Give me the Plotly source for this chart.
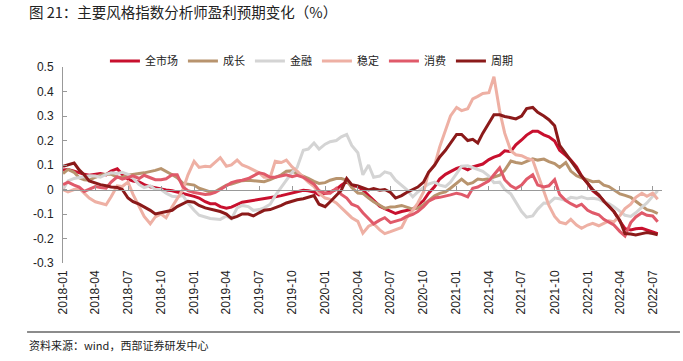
import pandas as pd
import plotly.graph_objects as go

# semi-monthly observation dates (1st and 15th), 2018-01 .. 2022-07
dates = pd.date_range("2018-01-01", periods=110, freq="SMS")

series_names = ["全市场", "成长", "金融", "稳定", "消费", "周期"]

quanshichang = [
    0.080, 0.082, 0.075, 0.068, 0.062, 0.058, 0.062, 0.065, 0.060, 0.075,
    0.085, 0.062, 0.042, 0.035, 0.031, 0.020, 0.011, 0.006, 0.003, -0.002,
    -0.005, -0.010, -0.015, -0.022, -0.028, -0.035, -0.050, -0.058, -0.058, -0.070,
    -0.076, -0.072, -0.062, -0.052, -0.048, -0.045, -0.042, -0.038, -0.033, -0.030,
    -0.025, -0.020, -0.012, -0.008, -0.003, -0.005, -0.010, -0.022, -0.016, -0.010,
    0.000, 0.018, 0.032, 0.015, 0.012, -0.002, -0.025, -0.044, -0.068, -0.078,
    -0.090, -0.098, -0.090, -0.085, -0.080, -0.065, -0.045, -0.015, 0.012, 0.043,
    0.062, 0.073, 0.086, 0.092, 0.080, 0.092, 0.098, 0.104, 0.122, 0.132,
    0.140, 0.158, 0.155, 0.182, 0.202, 0.222, 0.238, 0.238, 0.223, 0.215,
    0.198, 0.160, 0.139, 0.120, 0.092, 0.055, 0.025, -0.005, -0.025, -0.048,
    -0.068, -0.090, -0.130, -0.160, -0.165, -0.160, -0.158, -0.165, -0.172, -0.180,
]

chengzhang = [
    0.065, 0.082, 0.070, 0.048, 0.040, 0.038, 0.050, 0.058, 0.062, 0.063,
    0.050, 0.050, 0.058, 0.060, 0.065, 0.068, 0.072, 0.078, 0.085, 0.075,
    0.060, 0.048, 0.025, 0.022, 0.018, 0.005, -0.005, -0.010, -0.008, 0.005,
    0.018, 0.022, 0.028, 0.036, 0.038, 0.037, 0.034, 0.032, 0.040, 0.048,
    0.060, 0.075, 0.076, 0.065, 0.055, 0.045, 0.033, 0.025, 0.028, 0.038,
    0.045, 0.045, 0.038, 0.008, -0.014, -0.016, -0.035, -0.050, -0.064, -0.077,
    -0.071, -0.070, -0.065, -0.072, -0.080, -0.076, -0.062, -0.046, -0.026, -0.016,
    -0.010, 0.005, 0.025, 0.042, 0.022, 0.028, 0.043, 0.040, 0.044, 0.050,
    0.058, 0.078, 0.116, 0.110, 0.106, 0.115, 0.125, 0.120, 0.124, 0.114,
    0.106, 0.090, 0.110, 0.075, 0.056, 0.048, 0.040, 0.032, 0.034, 0.018,
    0.012, -0.003, -0.018, -0.024, -0.032, -0.048, -0.065, -0.082, -0.088, -0.098,
]

jinrong = [
    0.000, 0.035, 0.045, 0.048, 0.052, 0.056, 0.055, 0.050, 0.062, 0.068,
    0.065, 0.070, 0.062, 0.046, 0.020, 0.008, 0.015, 0.000, 0.000, -0.015,
    -0.028, -0.030, -0.025, -0.055, -0.085, -0.105, -0.112, -0.118, -0.120, -0.122,
    -0.108, -0.120, -0.075, -0.065, -0.070, -0.085, -0.082, -0.075, -0.060, -0.025,
    0.010, 0.040, 0.070, 0.090, 0.160, 0.165, 0.190, 0.165, 0.185, 0.195,
    0.200, 0.215, 0.225, 0.180, 0.150, 0.060, 0.100, 0.050, 0.055, 0.072,
    0.065, 0.038, 0.015, 0.000, -0.030, -0.010, 0.008, 0.022, 0.030, 0.018,
    0.012, 0.030, 0.065, 0.095, 0.097, 0.090, 0.082, 0.074, 0.055, 0.028,
    0.030, 0.000, -0.018, -0.050, -0.090, -0.113, -0.108, -0.080, -0.055, -0.056,
    -0.035, -0.038, -0.044, -0.032, -0.036, -0.030, -0.038, -0.036, -0.040, -0.050,
    -0.058, -0.070, -0.090, -0.105, -0.110, -0.095, -0.072, -0.055, -0.028, -0.005,
]

wending = [
    0.000, -0.010, 0.000, 0.005, -0.015, -0.035, -0.050, -0.055, -0.062, -0.030,
    0.015, 0.012, 0.030, -0.020, -0.070, -0.110, -0.140, -0.112, -0.100, -0.115,
    -0.070, -0.035, 0.000, 0.060, 0.115, 0.090, 0.095, 0.093, 0.110, 0.130,
    0.095, 0.100, 0.120, 0.100, 0.090, 0.080, 0.068, 0.050, 0.050, 0.115,
    0.110, 0.120, 0.092, 0.075, 0.050, 0.030, 0.012, -0.015, -0.035, -0.040,
    -0.055, -0.075, -0.095, -0.115, -0.130, -0.178, -0.150, -0.140, -0.165, -0.180,
    -0.172, -0.165, -0.155, -0.115, -0.085, -0.055, -0.010, 0.070, 0.100, 0.174,
    0.240, 0.300, 0.335, 0.322, 0.330, 0.370, 0.380, 0.392, 0.395, 0.460,
    0.320, 0.230, 0.158, 0.142, 0.138, 0.128, 0.120, 0.060, -0.010, -0.065,
    -0.110, -0.133, -0.140, -0.122, -0.145, -0.158, -0.145, -0.138, -0.148, -0.138,
    -0.128, -0.132, -0.106, -0.078, -0.060, -0.032, -0.015, -0.028, -0.015, -0.040,
]

xiaofei = [
    0.020, 0.030, 0.018, 0.010, -0.008, 0.000, 0.012, 0.008, 0.005, 0.030,
    0.052, 0.042, 0.050, 0.056, 0.045, 0.058, 0.048, 0.040, 0.040, 0.044,
    0.060, 0.060, 0.010, -0.005, -0.012, -0.015, -0.020, -0.018, -0.012, 0.000,
    0.015, 0.028, 0.035, 0.038, 0.045, 0.055, 0.068, 0.064, 0.050, 0.050,
    0.056, 0.060, 0.052, 0.058, 0.050, 0.038, 0.022, -0.005, -0.015, -0.015,
    0.005, -0.020, -0.035, -0.060, -0.070, -0.095, -0.120, -0.140, -0.125, -0.115,
    -0.135, -0.130, -0.122, -0.110, -0.102, -0.090, -0.070, -0.048, -0.035, -0.032,
    -0.025, -0.022, -0.015, -0.020, -0.030, 0.005, 0.010, 0.022, 0.035, 0.060,
    0.088, 0.040, 0.015, 0.004, 0.018, 0.042, 0.060, 0.018, 0.010, 0.015,
    0.040, -0.020, -0.045, -0.058, -0.070, -0.060, -0.085, -0.095, -0.103, -0.122,
    -0.132, -0.145, -0.172, -0.190, -0.135, -0.112, -0.095, -0.105, -0.108, -0.132,
]

zhouqi = [
    0.095, 0.100, 0.108, 0.080, 0.060, 0.035, 0.025, 0.020, 0.015, 0.010,
    0.008, 0.000, -0.035, -0.050, -0.060, -0.070, -0.085, -0.100, -0.095, -0.088,
    -0.085, -0.070, -0.060, -0.048, -0.052, -0.065, -0.075, -0.080, -0.082, -0.090,
    -0.100, -0.118, -0.110, -0.100, -0.100, -0.108, -0.095, -0.085, -0.082, -0.075,
    -0.065, -0.055, -0.047, -0.042, -0.038, -0.032, -0.025, -0.060, -0.070, -0.050,
    -0.022, -0.003, 0.045, 0.020, 0.015, 0.008, -0.002, 0.004, -0.003, 0.000,
    -0.012, -0.035, -0.025, -0.012, 0.000, 0.010, 0.030, 0.070, 0.100, 0.133,
    0.160, 0.190, 0.225, 0.225, 0.200, 0.205, 0.190, 0.230, 0.270, 0.305,
    0.305, 0.298, 0.293, 0.288, 0.300, 0.330, 0.335, 0.315, 0.300, 0.285,
    0.260, 0.180, 0.146, 0.115, 0.085, 0.055, 0.025, 0.000, -0.022, -0.048,
    -0.068, -0.090, -0.127, -0.180, -0.182, -0.186, -0.180, -0.176, -0.180, -0.185,
]

series_values = [quanshichang, chengzhang, jinrong, wending, xiaofei, zhouqi]
series_colors = ["#c8102e", "#b8946e", "#d4d4d4", "#eeb0a4", "#e05a6a", "#8b1a1a"]

x_tick_labels = [
    "2018-01", "2018-04", "2018-07", "2018-10", "2019-01", "2019-04", "2019-07",
    "2019-10", "2020-01", "2020-04", "2020-07", "2020-10", "2021-01", "2021-04",
    "2021-07", "2021-10", "2022-01", "2022-04", "2022-07",
]
x_tick_vals = [lbl + "-01" for lbl in x_tick_labels]

y_tick_vals = [0.5, 0.4, 0.3, 0.2, 0.1, 0, -0.1, -0.2, -0.3]
y_tick_text = ["0.5", "0.4", "0.3", "0.2", "0.1", "0", "-0.1", "-0.2", "-0.3"]

title_text = "图 21：主要风格指数分析师盈利预期变化（%）"
source_text = "资料来源：wind，西部证券研发中心"

CJK = "Noto Sans CJK SC"
LAT = "Liberation Sans, Arial, sans-serif"

fig = go.Figure()
for name, vals, col in zip(series_names, series_values, series_colors):
    fig.add_trace(go.Scatter(
        x=dates, y=vals, name=name, mode="lines",
        line=dict(color=col, width=3),
    ))

# invisible trace to materialise the zero-line axis
fig.add_trace(go.Scatter(x=[dates[0]], y=[0], xaxis="x2", mode="lines",
                         showlegend=False, hoverinfo="skip",
                         line=dict(color="rgba(0,0,0,0)")))

x_range = ["2018-01-01", "2022-07-27"]
y_min, y_max = -0.3, 0.5
zero_pos = (0 - y_min) / (y_max - y_min)

fig.update_layout(
    width=683, height=361,
    margin=dict(l=63, r=21, t=67, b=98),
    paper_bgcolor="white", plot_bgcolor="white",
    showlegend=True,
    legend=dict(orientation="h", x=0.07, xanchor="left", y=1.031, yanchor="middle",
                font=dict(family=CJK, size=11, color="#222"),
                bgcolor="rgba(0,0,0,0)", itemwidth=30, traceorder="normal"),
    xaxis=dict(range=x_range, tickvals=x_tick_vals, ticktext=x_tick_labels,
               tickangle=-90, showgrid=False, zeroline=False, showline=False,
               ticks="", tickfont=dict(family=LAT, size=12, color="#222"),
               ticklabelstandoff=4),
    xaxis2=dict(range=x_range, overlaying="x", anchor="free", position=zero_pos,
                side="bottom", showline=True, linecolor="#999", linewidth=1,
                ticks="inside", ticklen=4, tickcolor="#999", tickvals=x_tick_vals,
                showticklabels=False, showgrid=False, zeroline=False),
    yaxis=dict(range=[y_min, y_max], tickvals=y_tick_vals, ticktext=y_tick_text,
               showgrid=False, zeroline=False, showline=True, linecolor="#999",
               linewidth=1, ticks="inside", ticklen=4, tickcolor="#999",
               tickfont=dict(family=LAT, size=12, color="#222"),
               ticklabelstandoff=6),
    annotations=[
        dict(text=title_text, xref="paper", yref="paper", x=-0.06, y=1.281,
             xanchor="left", yanchor="middle", showarrow=False,
             font=dict(family=CJK, size=14.5, color="#222")),
        dict(text=source_text, xref="paper", yref="paper", x=-0.06, y=-0.418,
             xanchor="left", yanchor="middle", showarrow=False,
             font=dict(family=CJK, size=11, color="#222")),
    ],
    shapes=[dict(type="line", xref="paper", yref="paper", x0=-0.06, x1=1.03,
                 y0=-0.352, y1=-0.352, line=dict(color="#666", width=1.5))],
)

fig.write_html("out.html",
               config={"displayModeBar": False},
               post_script="document.body.style.margin='0px';document.body.style.overflow='hidden';")
